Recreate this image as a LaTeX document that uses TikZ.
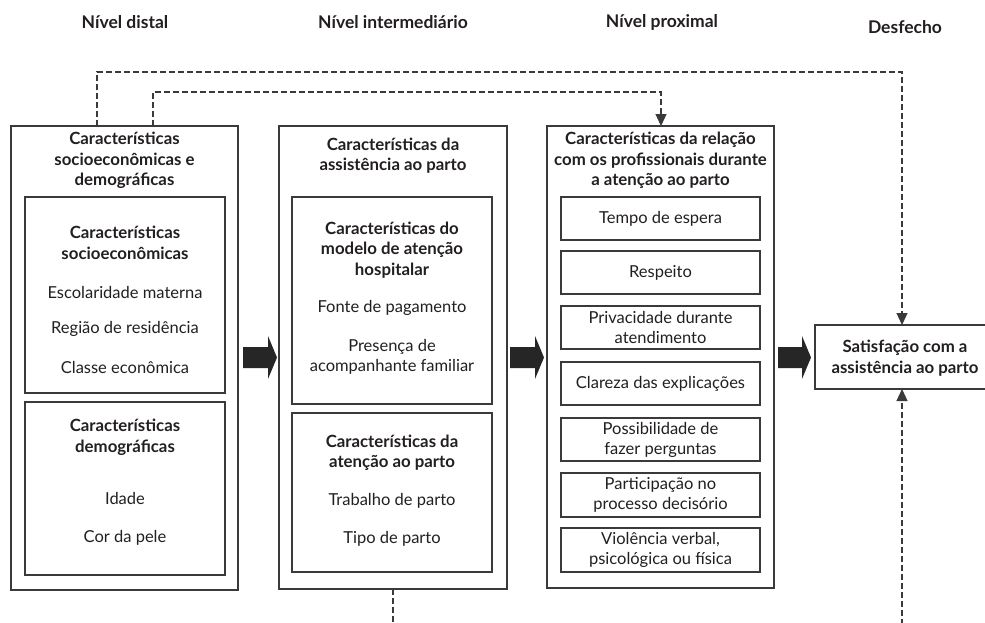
\documentclass[tikz,border=0pt]{standalone}
\usepackage{fontspec}
\setmainfont{Lato}
\usetikzlibrary{arrows.meta}
\definecolor{ink}{HTML}{231F20}
\definecolor{linec}{HTML}{3A3A3A}
\definecolor{arrc}{HTML}{262626}
\tikzset{
  box/.style={draw=linec, line width=1.3pt, inner sep=0pt, outer sep=0pt},
  ttl/.style={text=ink, align=center, font=\fontsize{16.8}{20.5}\selectfont\bfseries},
  itm/.style={text=ink, align=center, font=\fontsize{16.5}{20}\selectfont},
  hdr/.style={text=ink, font=\fontsize{17.5}{20}\selectfont\bfseries},
  dashc/.style={draw=linec, line width=1.2pt, dash pattern=on 6pt off 3pt},
  dasharr/.style={dashc, -{Triangle[width=11pt,length=12pt]}},
  blockarr/.style={fill=arrc}
}
\begin{document}
\begin{tikzpicture}[x=1pt,y=-1pt]
\useasboundingbox (0,0) rectangle (985,622);
\fill[white] (0,0) rectangle (985,622);

% headers
\node[hdr] (h1) at (125,22) {Nível distal};
\node[hdr] (h2) at (393,22) {Nível intermediário};
\node[hdr] (h3) at (662,22) {Nível proximal};
\node[hdr] (h4) at (905,27) {Desfecho};

% ---- Box 1 ----
\node[box, minimum width=227, minimum height=464] (b1) at (124.5,358) {};
\node[ttl] (t1) at (124.5,160.5) {Características\\socioeconômicas e\\demográficas};
\node[box, minimum width=200, minimum height=196] (b1a) at (125,295) {};
\node[ttl] (t1a) at (125,243) {Características\\socioeconômicas};
\node[itm] (i11) at (125,292) {Escolaridade materna};
\node[itm] (i12) at (125,329) {Região de residência};
\node[itm] (i13) at (125,367) {Classe econômica};
\node[box, minimum width=200, minimum height=173] (b1b) at (125,488.5) {};
\node[ttl] (t1b) at (125,437.5) {Características\\demográficas};
\node[itm] (i14) at (125,498) {Idade};
\node[itm] (i15) at (125,538) {Cor da pele};

% ---- Box 2 ----
\node[box, minimum width=228, minimum height=463] (b2) at (393,357.5) {};
\node[ttl] (t2) at (393,155.5) {Características da\\assistência ao parto};
\node[box, minimum width=200, minimum height=207] (b2a) at (392,300.5) {};
\node[ttl] (t2a) at (392,250) {Características do\\modelo de atenção\\hospitalar};
\node[itm] (i21) at (392,308) {Fonte de pagamento};
\node[itm] (i22) at (392,357) {Presença de\\acompanhante familiar};
\node[box, minimum width=200, minimum height=159] (b2b) at (392,492.5) {};
\node[ttl] (t2b) at (392,452.5) {Características da\\atenção ao parto};
\node[itm] (i23) at (392,501) {Trabalho de parto};
\node[itm] (i24) at (392,539) {Tipo de parto};

% ---- Box 3 ----
\node[box, minimum width=227, minimum height=462] (b3) at (660.5,357) {};
\node[ttl] (t3) at (660.5,160.5) {Características da relação\\com os profissionais durante\\a atenção ao parto};
\node[box, minimum width=199, minimum height=43] (r1) at (660.5,218.5) {};
\node[itm] (ri1) at (r1) {Tempo de espera};
\node[box, minimum width=199, minimum height=43] (r2) at (660.5,272.5) {};
\node[itm] (ri2) at (r2) {Respeito};
\node[box, minimum width=199, minimum height=43] (r3) at (660.5,327.5) {};
\node[itm] (ri3) at (r3) {Privacidade durante\\atendimento};
\node[box, minimum width=199, minimum height=43] (r4) at (660.5,383.5) {};
\node[itm] (ri4) at (r4) {Clareza das explicações};
\node[box, minimum width=199, minimum height=43] (r5) at (660.5,439.5) {};
\node[itm] (ri5) at (r5) {Possibilidade de\\fazer perguntas};
\node[box, minimum width=199, minimum height=44] (r6) at (660.5,495) {};
\node[itm] (ri6) at (r6) {Participação no\\processo decisório};
\node[box, minimum width=199, minimum height=44] (r7) at (660.5,550) {};
\node[itm] (ri7) at (r7) {Violência verbal,\\psicológica ou física};

% ---- Outcome ----
\node[box, minimum width=182, minimum height=64] (out) at (906,357) {};
\node[ttl] (tout) at (905,358) {Satisfação com a\\assistência ao parto};

% ---- block arrows ----
\fill[blockarr] (243,347) -- (268,347) -- (268,336) -- (277,357.5) -- (268,379) -- (268,368) -- (243,368) -- cycle;
\fill[blockarr] (510,347) -- (535,347) -- (535,336) -- (544,357.5) -- (535,379) -- (535,368) -- (510,368) -- cycle;
\fill[blockarr] (778,347) -- (802,347) -- (802,336) -- (811,357.5) -- (802,379) -- (802,368) -- (778,368) -- cycle;

% ---- dashed connectors ----
\coordinate (c1) at (97,72);
\coordinate (c2) at (902,72);
\coordinate (c3) at (153,92);
\coordinate (c4) at (661,92);
\draw[dasharr] (b1.north -| c1) -- (c1) -- (c2) -- (c2 |- out.north);
\draw[dasharr] (b1.north -| c3) -- (c3) -- (c4) -- (c4 |- b3.north);
\coordinate (e1) at (393,625);
\coordinate (e2) at (902,625);
\draw[dashc] (b2.south) -- (e1);
\draw[dasharr] (e2) -- (e2 |- out.south);
\end{tikzpicture}
\end{document}
